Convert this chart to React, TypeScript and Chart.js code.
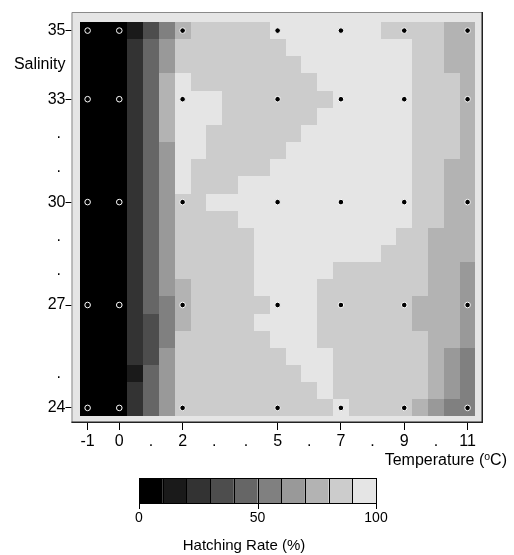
import React, { useEffect, useRef } from 'react';
import { Chart, registerables } from 'chart.js';

Chart.register(...registerables);

// Grid axes (cell centres)
const temperatures = [-1, -0.5, 0, 0.5, 1, 1.5, 2, 2.5, 3, 3.5, 4, 4.5, 5, 5.5, 6, 6.5, 7, 7.5, 8, 8.5, 9, 9.5, 10, 10.5, 11];
const salinities = [35, 34.5, 34, 33.5, 33, 32.5, 32, 31.5, 31, 30.5, 30, 29.5, 29, 28.5, 28, 27.5, 27, 26.5, 26, 25.5, 25, 24.5, 24];

// Hatching rate (%) per cell, rows = salinities (35 -> 24), columns = temperatures (-1 -> 11)
const hatchingRate = [
  [5, 5, 5, 15, 35, 55, 75, 85, 85, 85, 85, 85, 95, 95, 95, 95, 95, 95, 95, 85, 85, 85, 85, 75, 75],
  [5, 5, 5, 25, 45, 65, 85, 85, 85, 85, 85, 85, 85, 95, 95, 95, 95, 95, 95, 95, 95, 85, 85, 75, 75],
  [5, 5, 5, 25, 45, 65, 85, 85, 85, 85, 85, 85, 85, 85, 95, 95, 95, 95, 95, 95, 95, 85, 85, 75, 75],
  [5, 5, 5, 25, 45, 75, 95, 85, 85, 85, 85, 85, 85, 85, 85, 95, 95, 95, 95, 95, 95, 85, 85, 85, 75],
  [5, 5, 5, 25, 45, 75, 95, 95, 95, 85, 85, 85, 85, 85, 85, 85, 95, 95, 95, 95, 95, 85, 85, 85, 75],
  [5, 5, 5, 25, 45, 75, 95, 95, 95, 85, 85, 85, 85, 85, 85, 95, 95, 95, 95, 95, 95, 85, 85, 85, 75],
  [5, 5, 5, 25, 45, 75, 95, 95, 85, 85, 85, 85, 85, 85, 95, 95, 95, 95, 95, 95, 95, 85, 85, 85, 75],
  [5, 5, 5, 25, 45, 65, 95, 95, 85, 85, 85, 85, 85, 95, 95, 95, 95, 95, 95, 95, 95, 85, 85, 85, 75],
  [5, 5, 5, 25, 45, 65, 95, 85, 85, 85, 85, 85, 95, 95, 95, 95, 95, 95, 95, 95, 95, 85, 85, 75, 75],
  [5, 5, 5, 25, 45, 65, 95, 85, 85, 85, 95, 95, 95, 95, 95, 95, 95, 95, 95, 95, 95, 85, 85, 75, 75],
  [5, 5, 5, 25, 45, 65, 85, 85, 95, 95, 95, 95, 95, 95, 95, 95, 95, 95, 95, 95, 95, 85, 85, 75, 75],
  [5, 5, 5, 25, 45, 65, 85, 85, 85, 85, 95, 95, 95, 95, 95, 95, 95, 95, 95, 95, 95, 85, 85, 75, 75],
  [5, 5, 5, 25, 45, 65, 85, 85, 85, 85, 85, 95, 95, 95, 95, 95, 95, 95, 95, 95, 85, 85, 75, 75, 75],
  [5, 5, 5, 25, 45, 65, 85, 85, 85, 85, 85, 95, 95, 95, 95, 95, 95, 95, 95, 85, 85, 85, 75, 75, 75],
  [5, 5, 5, 25, 45, 65, 85, 85, 85, 85, 85, 95, 95, 95, 95, 95, 85, 85, 85, 85, 85, 85, 75, 75, 65],
  [5, 5, 5, 25, 45, 65, 75, 85, 85, 85, 85, 95, 95, 95, 95, 85, 85, 85, 85, 85, 85, 85, 75, 75, 65],
  [5, 5, 5, 25, 45, 55, 75, 85, 85, 85, 85, 85, 95, 95, 95, 85, 85, 85, 85, 85, 85, 75, 75, 75, 65],
  [5, 5, 5, 25, 35, 55, 75, 85, 85, 85, 85, 95, 95, 95, 95, 85, 85, 85, 85, 85, 85, 75, 75, 75, 65],
  [5, 5, 5, 25, 35, 55, 85, 85, 85, 85, 85, 85, 95, 95, 95, 85, 85, 85, 85, 85, 85, 85, 75, 75, 65],
  [5, 5, 5, 25, 35, 65, 85, 85, 85, 85, 85, 85, 85, 95, 95, 95, 85, 85, 85, 85, 85, 85, 75, 65, 55],
  [5, 5, 5, 15, 45, 65, 85, 85, 85, 85, 85, 85, 85, 85, 95, 95, 85, 85, 85, 85, 85, 85, 75, 65, 55],
  [5, 5, 5, 25, 45, 65, 85, 85, 85, 85, 85, 85, 85, 85, 85, 95, 85, 85, 85, 85, 85, 85, 75, 65, 55],
  [5, 5, 5, 25, 45, 65, 85, 85, 85, 85, 85, 85, 85, 85, 85, 85, 95, 85, 85, 85, 85, 75, 65, 55, 55],
];

// Sampled (experimental) points
const sampleTemperatures = [-1, 0, 2, 5, 7, 9, 11];
const sampleSalinities = [35, 33, 30, 27, 24];

// Axis ticks
const xTickValues = [-1, 0, 1, 2, 3, 4, 5, 6, 7, 8, 9, 10, 11];
const xTickLabels = ['-1', '0', '.', '2', '.', '.', '5', '.', '7', '.', '9', '.', '11'];
const yTickValues = [24, 25, 26, 27, 28, 29, 30, 31, 32, 33, 34, 35];
const yTickLabels = ['24', '. ', '', '27', '. ', '. ', '30', '. ', '. ', '33', 'Salinity', '35'];

// Colour key
const levelColors = ['#000000', '#1a1a1a', '#333333', '#4d4d4d', '#666666', '#808080', '#999999', '#b3b3b3', '#cccccc', '#e5e5e5'];
const colorbarTicks = [0, 50, 100];

const FONT = "'Liberation Sans', Arial, Helvetica, sans-serif";
const PANEL = '#e5e5e5';

function colorFor(v: number) {
  const i = Math.min(levelColors.length - 1, Math.max(0, Math.floor(v / 10)));
  return levelColors[i];
}

const heatmapPlugin = {
  id: 'heatmap',
  beforeDatasetsDraw(chart: any) {
    const { ctx, chartArea: a, scales } = chart;
    const xs = scales.x;
    const ys = scales.y;
    const hx = (temperatures[1] - temperatures[0]) / 2;
    const hy = (salinities[0] - salinities[1]) / 2;
    ctx.save();
    ctx.fillStyle = PANEL;
    ctx.fillRect(a.left, a.top, a.right - a.left, a.bottom - a.top);
    salinities.forEach((s, r) => {
      temperatures.forEach((t, c) => {
        const x0 = Math.round(xs.getPixelForValue(t - hx));
        const x1 = Math.round(xs.getPixelForValue(t + hx));
        const y0 = Math.round(ys.getPixelForValue(s + hy));
        const y1 = Math.round(ys.getPixelForValue(s - hy));
        ctx.fillStyle = colorFor(hatchingRate[r][c]);
        ctx.fillRect(x0, y0, x1 - x0, y1 - y0);
      });
    });
    // frame
    ctx.lineWidth = 1;
    ctx.strokeStyle = '#8a8a8a';
    ctx.beginPath();
    ctx.moveTo(a.left + 0.5, a.bottom);
    ctx.lineTo(a.left + 0.5, a.top + 0.5);
    ctx.lineTo(a.right, a.top + 0.5);
    ctx.stroke();
    ctx.lineWidth = 1.5;
    ctx.strokeStyle = '#222222';
    ctx.beginPath();
    ctx.moveTo(a.left, a.bottom - 0.75);
    ctx.lineTo(a.right - 0.75, a.bottom - 0.75);
    ctx.lineTo(a.right - 0.75, a.top);
    ctx.stroke();
    ctx.restore();
  },
  afterDraw(chart: any) {
    const { ctx } = chart;
    ctx.save();
    // x axis title with superscript
    const base = '16px ' + FONT;
    const small = '10.5px ' + FONT;
    ctx.fillStyle = '#000';
    ctx.textBaseline = 'alphabetic';
    ctx.textAlign = 'left';
    ctx.font = base;
    const p1 = 'Temperature (';
    const p3 = 'C)';
    const w1 = ctx.measureText(p1).width;
    const w3 = ctx.measureText(p3).width;
    ctx.font = small;
    const w2 = ctx.measureText('o').width;
    const right = 507;
    let tx = right - (w1 + w2 + w3);
    const ty = 465;
    ctx.font = base;
    ctx.fillText(p1, tx, ty);
    tx += w1;
    ctx.font = small;
    ctx.fillText('o', tx, ty - 5);
    tx += w2;
    ctx.font = base;
    ctx.fillText(p3, tx, ty);

    // colour bar
    const L = 139, R = 376, T = 478, B = 503;
    const n = levelColors.length;
    const bw = (R - L) / n;
    levelColors.forEach((col, i) => {
      ctx.fillStyle = col;
      ctx.fillRect(L + i * bw, T, bw, B - T);
    });
    ctx.strokeStyle = '#000';
    ctx.lineWidth = 1;
    for (let i = 0; i <= n; i++) {
      const x = Math.round(L + i * bw) + 0.5;
      ctx.beginPath();
      ctx.moveTo(x, T);
      ctx.lineTo(x, B);
      ctx.stroke();
    }
    ctx.strokeRect(L + 0.5, T + 0.5, R - L, B - T);
    ctx.font = '14px ' + FONT;
    ctx.fillStyle = '#000';
    ctx.textAlign = 'center';
    ctx.textBaseline = 'middle';
    colorbarTicks.forEach((v) => {
      const x = L + (v / 100) * (R - L);
      ctx.beginPath();
      ctx.moveTo(Math.round(x) + 0.5, B);
      ctx.lineTo(Math.round(x) + 0.5, B + 6);
      ctx.stroke();
      ctx.fillText(String(v), x, 518);
    });
    ctx.font = '15px ' + FONT;
    ctx.textBaseline = 'alphabetic';
    ctx.fillText('Hatching Rate (%)', 244, 550);
    ctx.restore();
  },
};

export default function App() {
  const ref = useRef<HTMLCanvasElement | null>(null);
  useEffect(() => {
    if (!ref.current) return;
    Chart.defaults.font.family = FONT;
    Chart.defaults.color = '#000';
    const points: { x: number; y: number }[] = [];
    sampleSalinities.forEach((s) => sampleTemperatures.forEach((t) => points.push({ x: t, y: s })));
    const chart = new Chart(ref.current, {
      type: 'scatter',
      data: {
        datasets: [
          {
            data: points,
            pointRadius: 2.8,
            pointHoverRadius: 2.8,
            backgroundColor: '#000',
            borderColor: '#fff',
            borderWidth: 1,
          },
        ],
      },
      options: {
        animation: false,
        responsive: true,
        maintainAspectRatio: false,
        layout: { padding: { top: 12, right: 31, bottom: 0, left: 0 } },
        plugins: { legend: { display: false }, tooltip: { enabled: false } },
        scales: {
          x: {
            type: 'linear',
            position: 'bottom',
            min: -1.509,
            max: 11.487,
            afterBuildTicks: (scale: any) => {
              scale.ticks = xTickValues.map((v) => ({ value: v }));
            },
            afterFit: (scale: any) => {
              scale.height = 132;
            },
            ticks: {
              autoSkip: false,
              maxRotation: 0,
              padding: 2,
              font: { size: 16 },
              color: '#000',
              callback: (_v: any, i: number) => xTickLabels[i],
            },
            grid: {
              drawOnChartArea: false,
              drawTicks: true,
              tickLength: 7,
              tickWidth: 1,
              tickColor: (c: any) => (xTickLabels[c.index] && xTickLabels[c.index].trim() !== '.' ? '#000' : 'rgba(0,0,0,0)'),
            },
            border: { display: false },
          },
          y: {
            type: 'linear',
            position: 'left',
            min: 23.56,
            max: 35.542,
            afterBuildTicks: (scale: any) => {
              scale.ticks = yTickValues.map((v) => ({ value: v }));
            },
            afterFit: (scale: any) => {
              scale.width = 71.5;
            },
            ticks: {
              autoSkip: false,
              padding: 0,
              font: { size: 16 },
              color: '#000',
              callback: (_v: any, i: number) => yTickLabels[i],
            },
            grid: {
              drawOnChartArea: false,
              drawTicks: true,
              tickLength: 6,
              tickWidth: 1,
              tickColor: (c: any) => (/^\d+$/.test(yTickLabels[c.index] || '') ? '#000' : 'rgba(0,0,0,0)'),
            },
            border: { display: false },
          },
        },
      },
      plugins: [heatmapPlugin],
    });
    return () => chart.destroy();
  }, []);
  return (
    <div style={{ position: 'absolute', left: 0, top: 0, width: 514, height: 555, background: '#fff' }}>
      <canvas ref={ref} />
    </div>
  );
}
